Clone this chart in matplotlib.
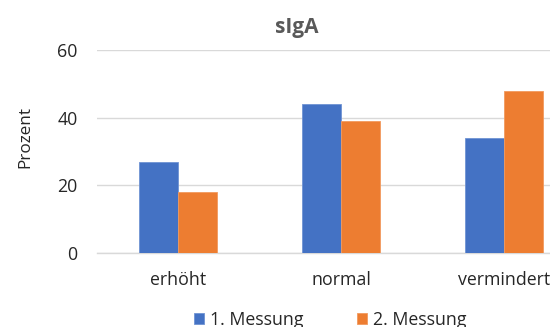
import numpy as np
import matplotlib
matplotlib.use("Agg")
import matplotlib.pyplot as plt

categories = ["erhöht", "normal", "vermindert"]
messung_1 = [27, 44, 34]
messung_2 = [18, 39, 48]
series_names = ["1. Messung", "2. Messung"]
yticks = [0, 20, 40, 60]

plt.rcParams['font.family'] = ['Open Sans', 'DejaVu Sans']

W, H = 550, 327
fig = plt.figure(figsize=(W / 100, H / 100), dpi=100)
# axes runs past the right edge, as the reference image is cropped
ax = fig.add_axes([97 / W, 1 - 253 / H, (585 - 97) / W, (253 - 50) / H])

x = np.arange(len(categories))
bw = 0.24
b1 = ax.bar(x - bw / 2, messung_1, bw, color="#4472C4", edgecolor="#6f93d3",
            linewidth=0.6, label=series_names[0], zorder=3)
b2 = ax.bar(x + bw / 2, messung_2, bw, color="#ED7D31", edgecolor="#f29a5e",
            linewidth=0.6, label=series_names[1], zorder=3)

ax.set_xlim(-0.5, len(categories) - 0.5)
ax.set_ylim(0, 60)
ax.set_yticks(yticks)
ax.yaxis.grid(True, color="#D9D9D9", linewidth=1.0, zorder=0)
for s in ["top", "right", "left"]:
    ax.spines[s].set_visible(False)
ax.spines["bottom"].set_color("#D9D9D9")
ax.spines["bottom"].set_linewidth(1.0)
ax.tick_params(axis="both", length=0, labelsize=12.8, colors="#262626")
ax.tick_params(axis="x", pad=13)
ax.tick_params(axis="y", pad=14)
ax.set_xticks(x)
ax.set_xticklabels(categories)

fig.text(25 / W, 1 - 137 / H, "Prozent", rotation=90, ha="center", va="center",
         fontsize=12.3, color="#262626")

fig.text(297 / W, 1 - 27 / H, "sIgA", ha="center", va="center",
         fontsize=15, fontweight="bold", color="#595959")

fig.legend(handles=[b1, b2], labels=series_names, loc="center",
           bbox_to_anchor=(330 / W, 1 - 320 / H), ncol=2, frameon=False,
           fontsize=12.8, handlelength=0.6, handleheight=0.6,
           columnspacing=3.0, handletextpad=0.3, labelcolor="#262626",
           borderaxespad=0, borderpad=0)

fig.savefig("out.png", dpi=100)
